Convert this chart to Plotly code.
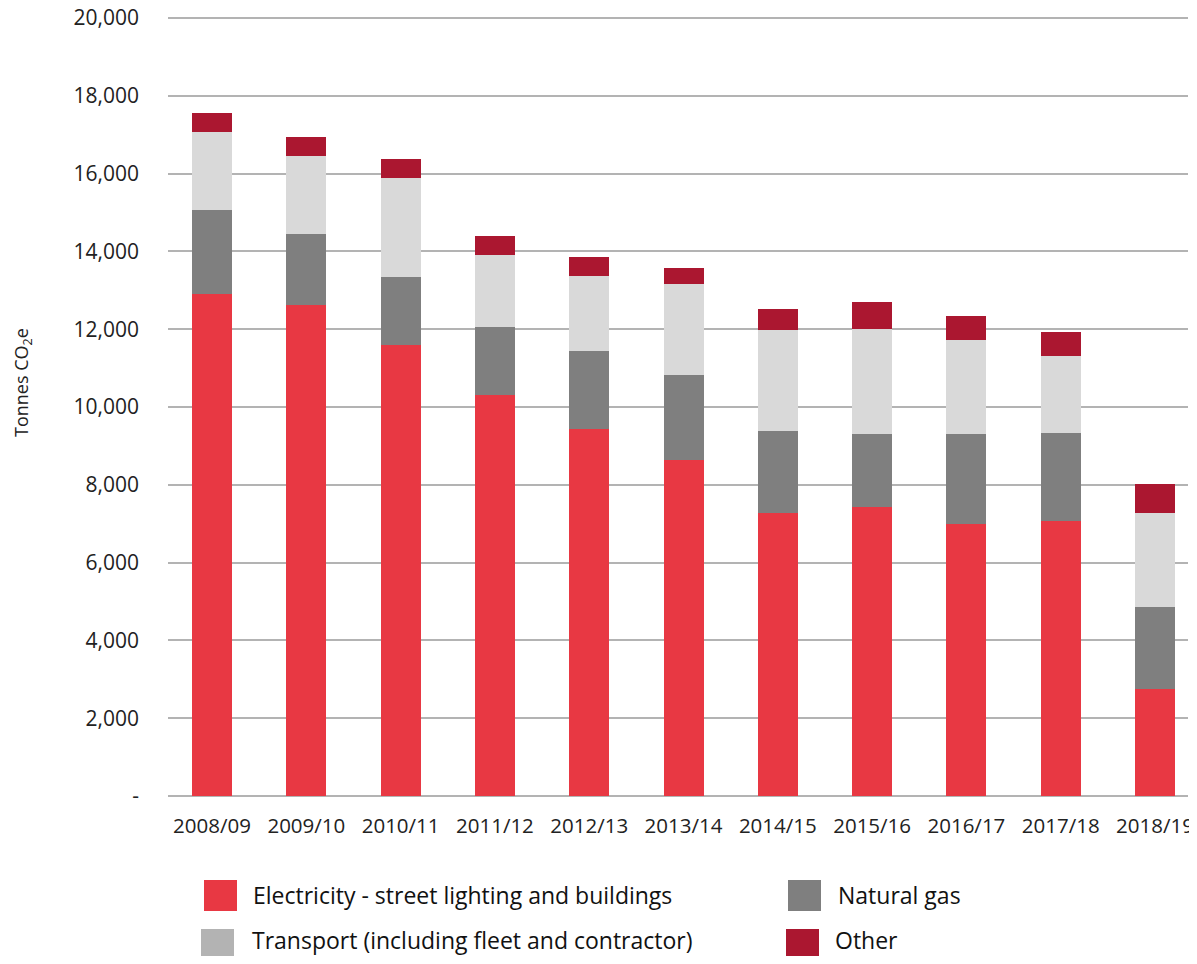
import plotly.graph_objects as go

years = ["2008/09", "2009/10", "2010/11", "2011/12", "2012/13", "2013/14",
         "2014/15", "2015/16", "2016/17", "2017/18", "2018/19"]
electricity = [12900, 12620, 11590, 10310, 9430, 8640, 7275, 7430, 6990, 7070, 2750]
natural_gas = [2160, 1825, 1750, 1750, 2005, 2185, 2110, 1875, 2315, 2265, 2110]
transport = [2005, 2005, 2545, 1850, 1930, 2340, 2595, 2700, 2415, 1980, 2415]
other = [490, 490, 490, 490, 490, 410, 540, 695, 615, 615, 745]

series_names = ["Electricity - street lighting and buildings", "Natural gas",
                "Transport (including fleet and contractor)", "Other"]
bar_colors = ["#e83843", "#7f7f7f", "#d9d9d9", "#ab1730"]
legend_colors = ["#e83843", "#7f7f7f", "#b3b3b3", "#ab1730"]

y_tickvals = [0, 2000, 4000, 6000, 8000, 10000, 12000, 14000, 16000, 18000, 20000]
y_ticktext = ["-", "2,000", "4,000", "6,000", "8,000", "10,000", "12,000",
              "14,000", "16,000", "18,000", "20,000"]

FONT = "Open Sans"
OFF = 8  # page body margin
W, H = 1197 - OFF, 964 - 2 * OFF
# plot area in figure pixels; top of range extended slightly so 20,000 grid line is drawn
PX_PER_UNIT = (796 - 18) / 20000.0
T = 2
Y_TOP = 20000 + ((18 - OFF) - T) / PX_PER_UNIT
L, R, B = 168 - OFF, 1188 - OFF, 796 - OFF

fig = go.Figure()
for name, vals, col in zip(series_names, [electricity, natural_gas, transport, other], bar_colors):
    fig.add_trace(go.Bar(x=list(range(len(years))), y=vals, name=name,
                         marker=dict(color=col, line=dict(width=0)),
                         width=0.424, showlegend=False))


def px_x(p):
    return (p - OFF - L) / (R - L)


def px_y(p):
    return (B - (p - OFF)) / (B - T)


shapes = []
annotations = []
# legend layout in reference-page pixels: (swatch x0, swatch y0, text x, text center y)
legend_pos = [(204, 880, 251, 895), (788, 880, 836, 895),
              (201, 929, 250, 940), (786, 929, 833, 940)]
for (sx, sy, tx, ty), name, col in zip(legend_pos, series_names, legend_colors):
    shapes.append(dict(type="rect", xref="paper", yref="paper",
                       x0=px_x(sx), x1=px_x(sx + 33), y0=px_y(sy), y1=px_y(sy + 31),
                       fillcolor=col, line=dict(width=0), layer="above"))
    annotations.append(dict(xref="paper", yref="paper", x=px_x(tx), y=px_y(ty),
                            text=name, showarrow=False, xanchor="left", yanchor="middle",
                            font=dict(family=FONT, size=23, color="#111111")))

annotations.append(dict(xref="paper", yref="paper", x=px_x(22), y=px_y(383),
                        text="Tonnes CO<sub>2</sub>e", showarrow=False, textangle=-90,
                        xanchor="center", yanchor="middle",
                        font=dict(family=FONT, size=18, color="#222222")))

fig.update_layout(
    width=W, height=H,
    barmode="stack",
    plot_bgcolor="white", paper_bgcolor="white",
    margin=dict(l=L, r=W - R, t=T, b=H - B, pad=0, autoexpand=False),
    font=dict(family=FONT, size=21, color="#222222"),
    xaxis=dict(tickmode="array", tickvals=list(range(len(years))), ticktext=years,
               range=[-0.467, 10.35], showgrid=False, zeroline=False, showline=False,
               ticks="", ticklabelstandoff=15, ticklabeloverflow="allow", automargin=False,
               tickfont=dict(family=FONT, size=20.5, color="#222222"),
               fixedrange=True),
    yaxis=dict(range=[0, Y_TOP], tickmode="array", tickvals=y_tickvals, ticktext=y_ticktext,
               showgrid=True, gridcolor="#b3b3b3", gridwidth=1.5, zeroline=True,
               zerolinecolor="#b3b3b3", zerolinewidth=1.5, showline=False, ticks="",
               ticklabelstandoff=28, ticklabeloverflow="allow", automargin=False,
               tickfont=dict(family=FONT, size=21, color="#222222"),
               fixedrange=True),
    shapes=shapes,
    annotations=annotations,
)

fig.write_html("out.html")
